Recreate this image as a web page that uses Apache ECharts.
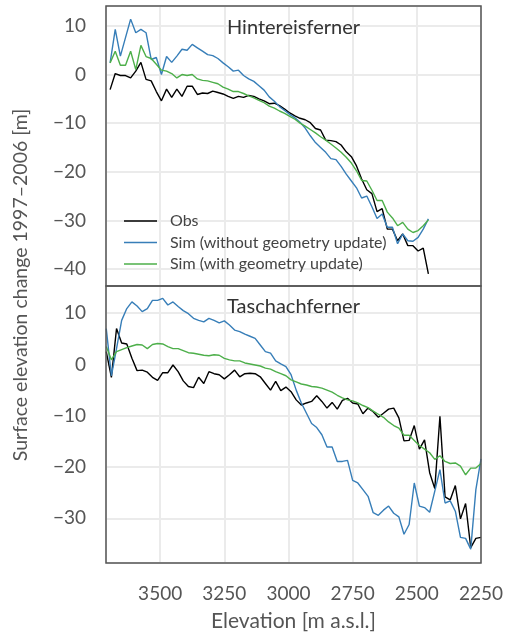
<!DOCTYPE html>
<html>
<head>
<meta charset="utf-8">
<script src="https://cdn.jsdelivr.net/npm/echarts@6/dist/echarts.min.js"></script>
<style>
  html, body { margin: 0; padding: 0; background: #fff; }
  #chart { width: 508px; height: 633px; }
</style>
</head>
<body>
<div id="chart"></div>
<script>
// elevation bins [m a.s.l.]
const elevHint = [3695, 3675, 3655, 3635, 3615, 3595, 3575, 3555, 3535, 3515,
  3495, 3475, 3455, 3435, 3415, 3395, 3375, 3355, 3335, 3315,
  3295, 3275, 3255, 3235, 3215, 3195, 3175, 3155, 3135, 3115,
  3095, 3075, 3055, 3035, 3015, 2995, 2975, 2955, 2935, 2915,
  2895, 2875, 2855, 2835, 2815, 2795, 2775, 2755, 2735, 2715,
  2695, 2675, 2655, 2635, 2615, 2595, 2575, 2555, 2535, 2515,
  2495, 2475, 2455]
const obsHint = [-3.1, 0.2, -0.2, -0.2, -0.7, 0.7, 2.5, -1.0, -1.3, -3.5,
  -5.4, -3.0, -4.7, -3.0, -4.5, -2.4, -2.4, -4.1, -3.8, -3.9,
  -3.4, -3.7, -4.0, -4.5, -4.9, -4.5, -4.7, -4.3, -4.5, -5.0,
  -5.4, -6.0, -5.9, -6.4, -7.1, -7.9, -8.5, -9.0, -9.3, -9.9,
  -11.1, -11.4, -13.5, -13.6, -13.8, -14.5, -15.9, -16.9, -18.8, -21.5,
  -23.7, -24.5, -28.2, -27.6, -31.8, -31.8, -34.2, -32.8, -35.2, -35.2,
  -36.3, -35.7, -41.0]
const simHint = [2.4, 9.3, 3.8, 7.6, 11.4, 8.6, 9.3, 8.6, 3.1, 3.5,
  0.0, 3.7, 2.5, 3.8, 5.2, 5.0, 6.2, 5.5, 4.8, 4.1,
  3.9, 3.3, 2.4, 1.6, 0.7, 0.9, -0.2, -0.9, -1.4, -2.3,
  -3.2, -4.6, -5.5, -6.6, -7.4, -8.2, -8.9, -9.8, -11.0, -12.6,
  -14.0, -15.0, -16.0, -17.3, -17.5, -18.9, -20.5, -21.9, -23.3, -25.4,
  -25.0, -27.2, -29.6, -28.7, -31.4, -31.4, -34.8, -32.8, -34.2, -34.3,
  -33.5, -31.8, -29.7]
const geoHint = [2.4, 4.8, 1.9, 1.9, 4.8, 1.0, 6.0, 3.7, 3.3, 2.1,
  0.9, 0.7, 0.2, -0.7, 0.0, -0.2, 0.0, -0.9, -1.2, -1.3,
  -1.6, -1.9, -2.6, -3.0, -3.5, -3.5, -3.9, -4.4, -4.8, -5.3,
  -5.8, -6.5, -6.9, -7.5, -8.0, -8.6, -9.2, -10.0, -10.6, -11.3,
  -12.0, -12.8, -13.5, -14.3, -15.1, -16.0, -17.0, -18.2, -19.8, -21.8,
  -21.9, -23.8, -25.9, -25.9, -28.3, -29.5, -31.1, -30.4, -31.8, -32.5,
  -32.1, -31.1, -29.9]

const elevTasch = [3710, 3690, 3670, 3650, 3630, 3610, 3590, 3570, 3550, 3530,
  3510, 3490, 3470, 3450, 3430, 3410, 3390, 3370, 3350, 3330,
  3310, 3290, 3270, 3250, 3230, 3210, 3190, 3170, 3150, 3130,
  3110, 3090, 3070, 3050, 3030, 3010, 2990, 2970, 2950, 2930,
  2910, 2890, 2870, 2850, 2830, 2810, 2790, 2770, 2750, 2730,
  2710, 2690, 2670, 2650, 2630, 2610, 2590, 2570, 2550, 2530,
  2510, 2490, 2470, 2450, 2430, 2410, 2390, 2370, 2350, 2330,
  2310, 2290, 2270, 2250]
const obsTasch = [2.5, -2.5, 7.0, 4.2, 4.0, 1.2, -1.2, -1.1, -1.5, -2.5,
  -3.1, -1.6, -1.6, -0.1, -1.4, -3.2, -4.3, -4.5, -2.5, -3.7,
  -1.4, -1.8, -2.0, -2.8, -2.0, -1.1, -2.4, -1.8, -1.7, -1.8,
  -2.4, -3.7, -5.0, -3.3, -5.1, -4.4, -5.3, -6.9, -7.9, -7.5,
  -7.2, -6.1, -7.2, -8.5, -7.4, -8.7, -7.0, -6.6, -7.5, -7.7,
  -9.6, -8.5, -9.2, -10.3, -9.5, -8.7, -8.5, -10.4, -14.9, -14.8,
  -11.9, -16.5, -14.7, -21.1, -24.2, -10.1, -25.8, -26.4, -23.6, -30.1,
  -27.1, -35.7, -33.9, -33.7]
const simTasch = [7.0, -2.2, 3.1, 8.6, 10.9, 12.2, 11.4, 10.3, 10.9, 12.5,
  12.5, 12.9, 11.6, 12.2, 11.3, 10.5, 9.9, 9.0, 8.6, 8.3,
  9.0, 8.6, 8.1, 8.5, 7.7, 6.7, 6.4, 5.9, 5.5, 5.1,
  3.8, 2.5, 2.2, 0.7, 0.1, -0.4, -2.0, -5.0, -7.5, -9.5,
  -11.5, -12.3, -13.7, -16.1, -16.1, -18.9, -18.9, -18.7, -22.6, -23.1,
  -24.4, -25.7, -28.9, -29.4, -28.4, -27.6, -29.0, -29.7, -33.1, -31.2,
  -23.1, -27.6, -27.9, -28.8, -24.7, -20.5, -27.0, -26.6, -28.6, -33.7,
  -33.9, -36.0, -24.4, -18.4]
const geoTasch = [3.5, 0.9, 2.5, 2.9, 3.3, 3.6, 3.9, 3.8, 3.1, 3.9,
  4.1, 4.0, 3.5, 3.1, 3.1, 2.7, 2.3, 2.2, 2.0, 1.8,
  1.7, 1.9, 1.8, 1.2, 0.9, 0.7, 0.7, 0.3, 0.1, -0.1,
  -0.3, -0.7, -0.9, -1.4, -1.8, -2.2, -3.0, -3.4, -3.8, -4.0,
  -4.3, -4.4, -4.6, -5.0, -5.4, -6.0, -6.5, -6.9, -7.1, -7.5,
  -8.0, -8.4, -9.1, -9.7, -10.3, -11.2, -11.9, -12.4, -13.8, -13.8,
  -14.8, -15.8, -16.5, -17.2, -18.5, -17.8, -18.9, -19.3, -19.2, -19.8,
  -21.5, -20.2, -20.2, -19.3]

const seriesNames = ['Obs', 'Sim (without geometry update)', 'Sim (with geometry update)']
const seriesColors = ['#000000', '#377eb8', '#4daf4a']
const panelTitles = ['Hintereisferner', 'Taschachferner']

const FONT = 'Lato, "Open Sans", sans-serif'
const textColor = '#555'
const gridColor = '#ebebeb'

function pairs(xs, ys) {
  return xs.map((x, i) => [x, ys[i]])
}

function minusFmt(v) {
  return v < 0 ? '\u2212' + Math.abs(v) : String(v)
}

const chart = echarts.init(document.getElementById('chart'), null, { renderer: 'canvas' })

const xAxisBase = {
  type: 'value',
  inverse: true,
  min: 2250,
  max: 3711,
  interval: 250,
  axisLine: { show: false },
  axisTick: { show: false },
  splitLine: { show: true, lineStyle: { color: gridColor, width: 2 } }
}
const yAxisBase = {
  type: 'value',
  axisLine: { show: false },
  axisTick: { show: false },
  splitLine: { show: true, lineStyle: { color: gridColor, width: 2 } },
  axisLabel: {
    show: true,
    showMinLabel: false,
    showMaxLabel: false,
    fontSize: 19,
    fontFamily: FONT,
    color: textColor,
    margin: 20,
    formatter: minusFmt
  }
}

const panels = [
  [obsHint, simHint, geoHint],
  [obsTasch, simTasch, geoTasch]
]
const panelElev = [elevHint, elevTasch]

const series = []
panels.forEach((p, gi) => {
  p.forEach((vals, si) => {
    series.push({
      name: seriesNames[si],
      type: 'line',
      xAxisIndex: gi,
      yAxisIndex: gi,
      data: pairs(panelElev[gi], vals),
      symbol: 'none',
      color: seriesColors[si],
      lineStyle: { width: 1.4, color: seriesColors[si] },
      z: 3,
      animation: false
    })
  })
})

const option = {
  backgroundColor: '#fff',
  animation: false,
  textStyle: { fontFamily: FONT },
  grid: [
    { left: 106, width: 375, top: 6, height: 280, show: true, borderColor: '#555', borderWidth: 1.5, backgroundColor: 'transparent', z: 4 },
    { left: 106, width: 375, top: 286, height: 277, show: true, borderColor: '#555', borderWidth: 1.5, backgroundColor: 'transparent', z: 4 }
  ],
  xAxis: [
    Object.assign({}, xAxisBase, { gridIndex: 0, axisLabel: { show: false } }),
    Object.assign({}, xAxisBase, {
      gridIndex: 1,
      axisLabel: {
        show: true, showMaxLabel: false, fontSize: 19, fontFamily: FONT, color: textColor, margin: 21,
        formatter: v => String(v)
      },
      name: 'Elevation [m a.s.l.]',
      nameLocation: 'middle',
      nameGap: 48,
      nameTextStyle: { fontSize: 21, fontFamily: FONT, color: textColor }
    })
  ],
  yAxis: [
    Object.assign({}, yAxisBase, { gridIndex: 0, min: -43.5, max: 14.1 }),
    Object.assign({}, yAxisBase, { gridIndex: 1, min: -38.7, max: 15.3 })
  ],
  legend: {
    orient: 'vertical',
    left: 119,
    top: 208,
    icon: 'rect',
    itemWidth: 33,
    itemHeight: 1.5,
    itemGap: 5.5,
    data: seriesNames,
    textStyle: { fontSize: 16, lineHeight: 16, fontFamily: FONT, color: '#444', padding: [0, 0, 0, 8] }
  },
  graphic: [
    {
      type: 'text', x: 293.5, y: 28, z: 100,
      style: { text: panelTitles[0], font: '20px ' + FONT, fill: '#333', textAlign: 'center', textVerticalAlign: 'middle' }
    },
    {
      type: 'text', x: 293.5, y: 307, z: 100,
      style: { text: panelTitles[1], font: '20px ' + FONT, fill: '#333', textAlign: 'center', textVerticalAlign: 'middle' }
    },
    {
      type: 'text', x: 21, y: 285, rotation: Math.PI / 2, z: 100,
      style: { text: 'Surface elevation change 1997\u20132006 [m]', font: '19.5px ' + FONT, fill: textColor, textAlign: 'center', textVerticalAlign: 'middle' }
    }
  ],
  series: series
}

chart.setOption(option)
</script>
</body>
</html>
